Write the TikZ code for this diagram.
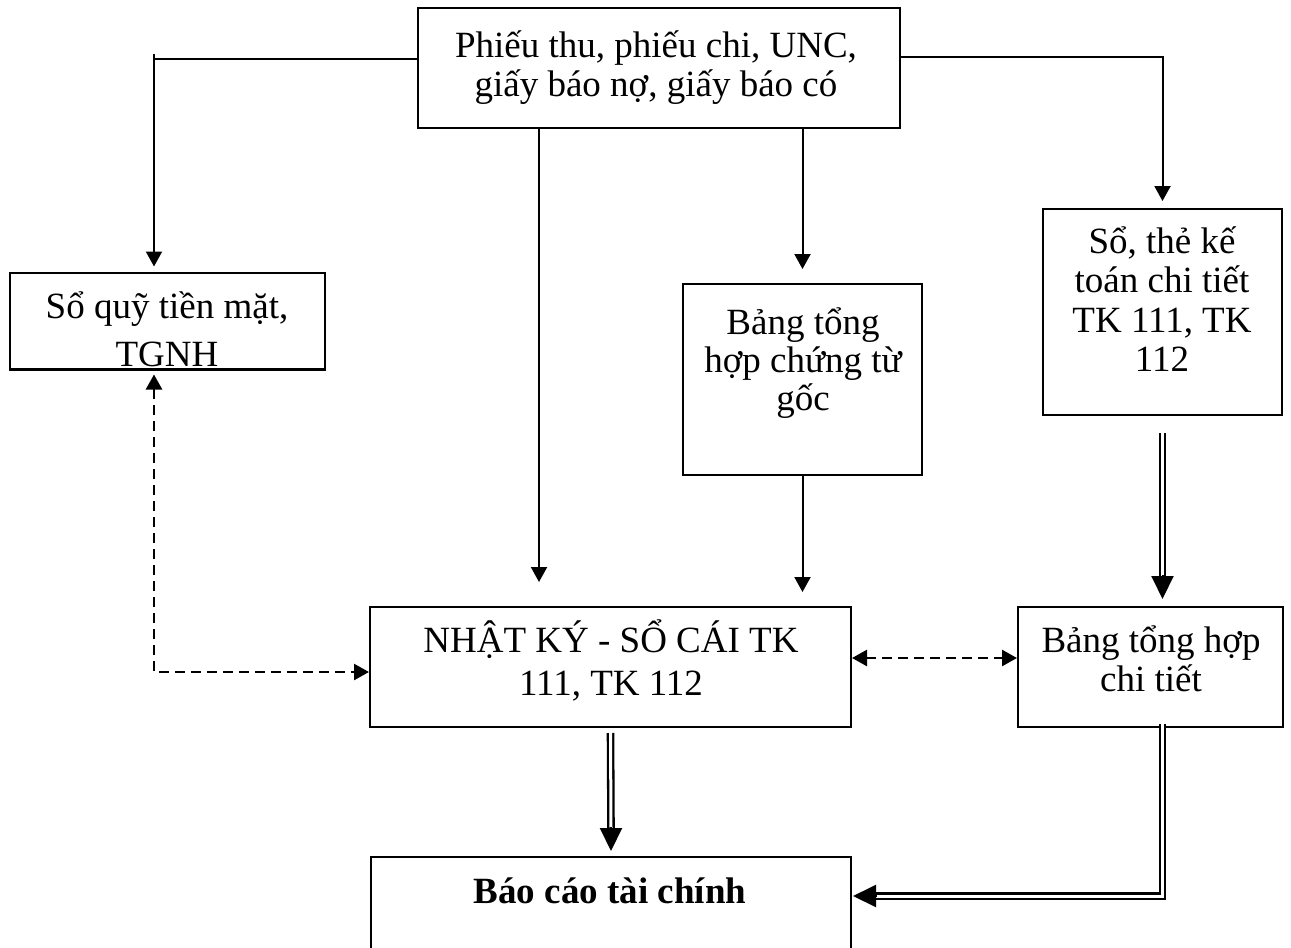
\documentclass[tikz,border=0pt]{standalone}
\usepackage{fontspec}
\setmainfont{Liberation Serif}
\usetikzlibrary{arrows.meta}
% centred lines with a fixed baseline distance; the box's baseline is the first line's
\newcommand{\stacklines}[2][38pt]{\vtop{\baselineskip=#1\relax\lineskiplimit=-100pt\halign{\hfil##\hfil\cr#2\crcr}}}
\tikzset{
  box/.style={draw, line width=2pt, inner sep=0pt},
  txt/.style={anchor=base, inner sep=0pt, font=\fontsize{37}{40}\selectfont},
  ln/.style={line width=2pt},
  arr/.style={line width=2pt, -{Triangle[length=15pt,width=16pt]}},
  darr/.style={line width=2.5pt, dash pattern=on 10pt off 6pt,
    {Triangle[length=15pt,width=16pt]}-{Triangle[length=15pt,width=16pt]}},
  dbl/.style={line width=2.3pt, double, double distance=3pt},
  bighead/.style={line width=2pt, -{Triangle[length=23pt,width=22pt]}}
}
\begin{document}
\begin{tikzpicture}[x=1pt, y=-1pt]
\useasboundingbox (0,0) rectangle (1291,948);
\clip (0,0) rectangle (1291,948);

% boxes
\node[box, minimum width=482pt, minimum height=120pt] (top) at (659,68) {};
\node[box, minimum width=315pt, minimum height=96pt] (sq) at (167.5,320.5) {};
\node[box, minimum width=239pt, minimum height=191pt] (bth) at (802.5,379.5) {};
\node[box, minimum width=239pt, minimum height=206pt] (sct) at (1162.5,312) {};
\node[box, minimum width=481pt, minimum height=120pt] (nk) at (610.5,667) {};
\node[box, minimum width=265pt, minimum height=120pt] (btc) at (1150.5,667) {};
\node[box, minimum width=480pt, minimum height=140pt] (bc) at (611,927) {};

% texts
\node[txt] (ttop) at (656,57) {\stacklines[39pt]{Phiếu thu, phiếu chi, UNC,\cr giấy báo nợ, giấy báo có}};
\begin{scope}
  \clip (sq.south west) rectangle (sq.north east);
  \node[txt] (tsq) at (167,318) {\stacklines[48pt]{Sổ quỹ tiền mặt,\cr TGNH}};
\end{scope}
\draw[line width=2pt] (sq.south west) -- (sq.south east);
\node[txt] (tbth) at (803,334) {\stacklines[38pt]{Bảng tổng\cr hợp chứng từ\cr gốc}};
\node[txt] (tsct) at (1162,253) {\stacklines[39.5pt]{Sổ, thẻ kế\cr toán chi tiết\cr TK 111, TK\cr 112}};
\node[txt] (tnk) at (611,652) {\stacklines[43pt]{NHẬT KÝ - SỔ CÁI TK\cr 111, TK 112}};
\node[txt] (tbtc) at (1151,652) {\stacklines[39pt]{Bảng tổng hợp\cr chi tiết}};
\node[txt, font=\fontsize{37}{40}\selectfont\bfseries] (tbc) at (610,903) {Báo cáo tài chính};

% bend points
\coordinate (jl) at (154,59);
\coordinate (jr) at (1163,57);
\coordinate (xa) at (539,0);

% from the source documents
\draw[ln] (top.west |- jl) -- (jl);
\draw[arr, shorten >=5pt] ([yshift=5pt]jl) -- (jl |- sq.north);
\draw[arr, shorten >=7pt] (top.east |- jr) -| (sct.north);
\draw[arr, shorten >=24pt] (xa |- top.south) -- (xa |- nk.north);
\draw[arr, shorten >=14pt] (bth.north |- top.south) -- (bth.north);
\draw[arr, shorten >=14pt] (bth.south) -- (bth.south |- nk.north);

% cross-checks
\draw[darr, shorten <=5pt] (jl |- sq.south) |- ([yshift=-5pt]nk.west);
\draw[darr] ([yshift=9pt]nk.east) -- ([yshift=9pt]btc.west);

% double connectors
\draw[dbl] ([yshift=-17pt]sct.south) -- ([yshift=30pt]sct.south |- btc.north);
\draw[bighead] ([yshift=31pt]sct.south |- btc.north) -- ([yshift=7pt]sct.south |- btc.north);

\draw[dbl] ([yshift=-5pt]nk.south) -- ([yshift=28pt]bc.north);
\draw[bighead] ([yshift=29pt]bc.north) -- ([yshift=5pt]bc.north);

\draw[dbl] ([yshift=4pt]sct.south |- btc.south) |- ([xshift=24pt,yshift=-40pt]bc.north east);
\draw[bighead] ([xshift=25pt,yshift=-40pt]bc.north east) -- ([xshift=1pt,yshift=-40pt]bc.north east);
\end{tikzpicture}
\end{document}
